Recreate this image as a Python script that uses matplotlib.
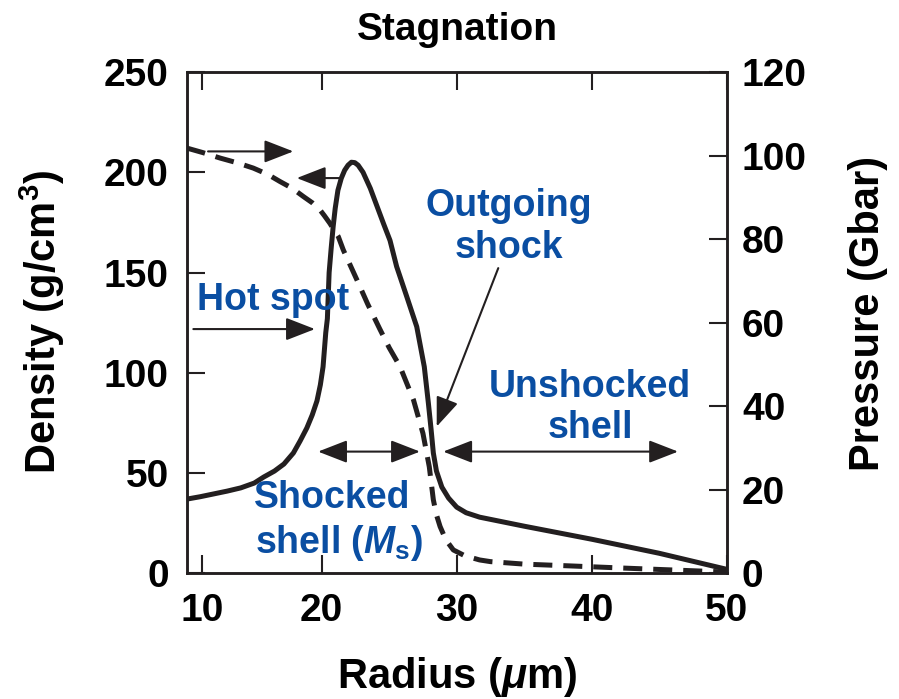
import matplotlib
matplotlib.use("Agg")
import matplotlib.pyplot as plt

plt.rcParams['font.family'] = ['Liberation Sans', 'DejaVu Sans']
plt.rcParams['font.weight'] = 'bold'
plt.rcParams['mathtext.fontset'] = 'custom'
plt.rcParams['mathtext.rm'] = 'Liberation Sans:bold'
plt.rcParams['mathtext.it'] = 'Liberation Sans:italic:bold'
plt.rcParams['mathtext.bf'] = 'Liberation Sans:bold'

# ---- data ----
radius_density = [10, 11, 12, 13, 14, 15.0, 15.7, 16.5, 17.2, 17.9, 18.4, 18.9, 19.3,
                  19.65, 19.9, 20.1, 20.3, 20.42, 20.55, 20.7, 20.85, 21.0, 21.2,
                  21.45, 21.7, 21.95, 22.2, 22.45, 22.7, 23.06, 23.6, 24.1, 24.6,
                  25.06, 25.55, 26.3, 27.04, 27.6, 27.75, 27.9, 28.1, 28.27, 28.5,
                  28.9, 29.4, 30.0, 30.7, 31.7, 35, 40, 45, 50]
density = [37, 38.2, 39.6, 41, 42.6, 45, 48, 51, 54.5, 60, 66, 72.5, 79,
           86, 94, 103, 120, 127, 150, 162, 173, 182, 191,
           197, 201, 203.5, 205, 204.8, 203.5, 200, 192, 183, 174,
           166, 153, 138, 123, 103, 94, 85, 72, 60, 51,
           43, 37.5, 33, 30.2, 28, 23.5, 17, 10, 2.0]

radius_pressure = [10, 11.2, 12.47, 13.7, 14.93, 16.0, 16.9, 17.8, 18.64, 19.3, 19.87,
                   20.2, 20.6, 21.23, 21.6, 22.6, 23.4, 24.3, 25.0, 25.8, 26.8, 27.5,
                   27.97, 28.27, 28.5, 28.77, 29.2, 29.75, 30.6, 31.7, 32.5,
                   35, 38.6, 42, 46, 50]
pressure = [101.8, 100.7, 99.4, 98.3, 97, 95.5, 93.8, 92.2, 90.2, 88.7, 87,
            85.6, 83.8, 80.6, 77.4, 70.3, 64.5, 58.5, 54, 49.5, 41.5, 33.5,
            25.5, 17.6, 14, 11.2, 8, 5.6, 4.2, 3.2, 2.8,
            2.2, 1.75, 1.3, 0.8, 0.3]

x_tick_pos = [11.15, 20, 30, 40, 50]
x_tick_labels = ['10', '20', '30', '40', '50']
density_ticks = [0, 50, 100, 150, 200, 250]
pressure_ticks = [0, 20, 40, 60, 80, 100, 120]

BLACK = '#231f20'
BLUE = '#0a4ea2'
FS = 27

fig = plt.figure(figsize=(8.99, 6.99), dpi=100)
ax = fig.add_axes([0.2077, 0.1798, 0.6006, 0.7172])
ax2 = ax.twinx()

ax.plot(radius_density, density, color=BLACK, lw=3.6, solid_joinstyle='round',
        solid_capstyle='butt', zorder=3)
ax2.plot(radius_pressure, pressure, color=BLACK, lw=3.6, dashes=(3.8, 2.2), zorder=3)

ax.set_xlim(10, 50)
ax.set_ylim(0, 250)
ax2.set_ylim(0, 120)
ax.set_xticks(x_tick_pos)
ax.set_xticklabels(x_tick_labels)
ax.set_yticks(density_ticks)
ax2.set_yticks(pressure_ticks)

for a in (ax, ax2):
    for s in a.spines.values():
        s.set_linewidth(1.8)
        s.set_color(BLACK)
ax.tick_params(axis='both', direction='in', length=13, width=1.5, color=BLACK,
               labelsize=28, top=True)
ax.tick_params(axis='x', pad=14)
ax.tick_params(axis='y', pad=13)
ax2.tick_params(axis='y', direction='in', length=13, width=1.5, color=BLACK,
                labelsize=28, pad=11)

ax.set_xlabel(r'Radius ($\mu$m)', fontsize=30, fontweight='bold', labelpad=19)
fig.text(42 / 899, 1 - 322 / 699, r'Density (g/cm$^3$)', rotation=90, fontsize=30,
         fontweight='bold', ha='center', va='center')
fig.text(868 / 899, 1 - 313 / 699, 'Pressure (Gbar)', rotation=90, fontsize=30,
         fontweight='bold', ha='center', va='center')
fig.text(457 / 899, 1 - 40 / 699, 'Stagnation', fontsize=28, fontweight='bold',
         ha='center', va='baseline')

# ---- annotations ----
def arrow(x0, y0, x1, y1, style='-|>'):
    ax.annotate('', xy=(x1, y1), xytext=(x0, y0),
                arrowprops=dict(arrowstyle=style + ',head_length=0.9,head_width=0.35',
                                mutation_scale=20, lw=1.5, color=BLACK,
                                shrinkA=0, shrinkB=0), zorder=4)

arrow(11.58, 210.4, 17.9, 210.4)
arrow(21.48, 197.1, 18.15, 197.1)
arrow(10.49, 121.8, 19.5, 121.8)
arrow(19.73, 60.7, 27.28, 60.7, '<|-|>')
arrow(29.0, 60.7, 46.4, 60.7, '<|-|>')
arrow(33.08, 152.2, 28.52, 73.2)

def label(x, y, s):
    ax.text(x, y, s, color=BLUE, fontsize=FS, fontweight='bold',
            ha='center', va='baseline', zorder=5)

label(16.36, 131.4, 'Hot spot')
label(33.84, 178.0, 'Outgoing')
label(33.84, 157.2, 'shock')
label(39.87, 88.1, 'Unshocked')
label(39.87, 67.4, 'shell')
label(20.8, 32.4, 'Shocked')
label(21.3, 10.0, r'shell ($M_\mathrm{s}$)')

fig.savefig('out.png', dpi=100)
